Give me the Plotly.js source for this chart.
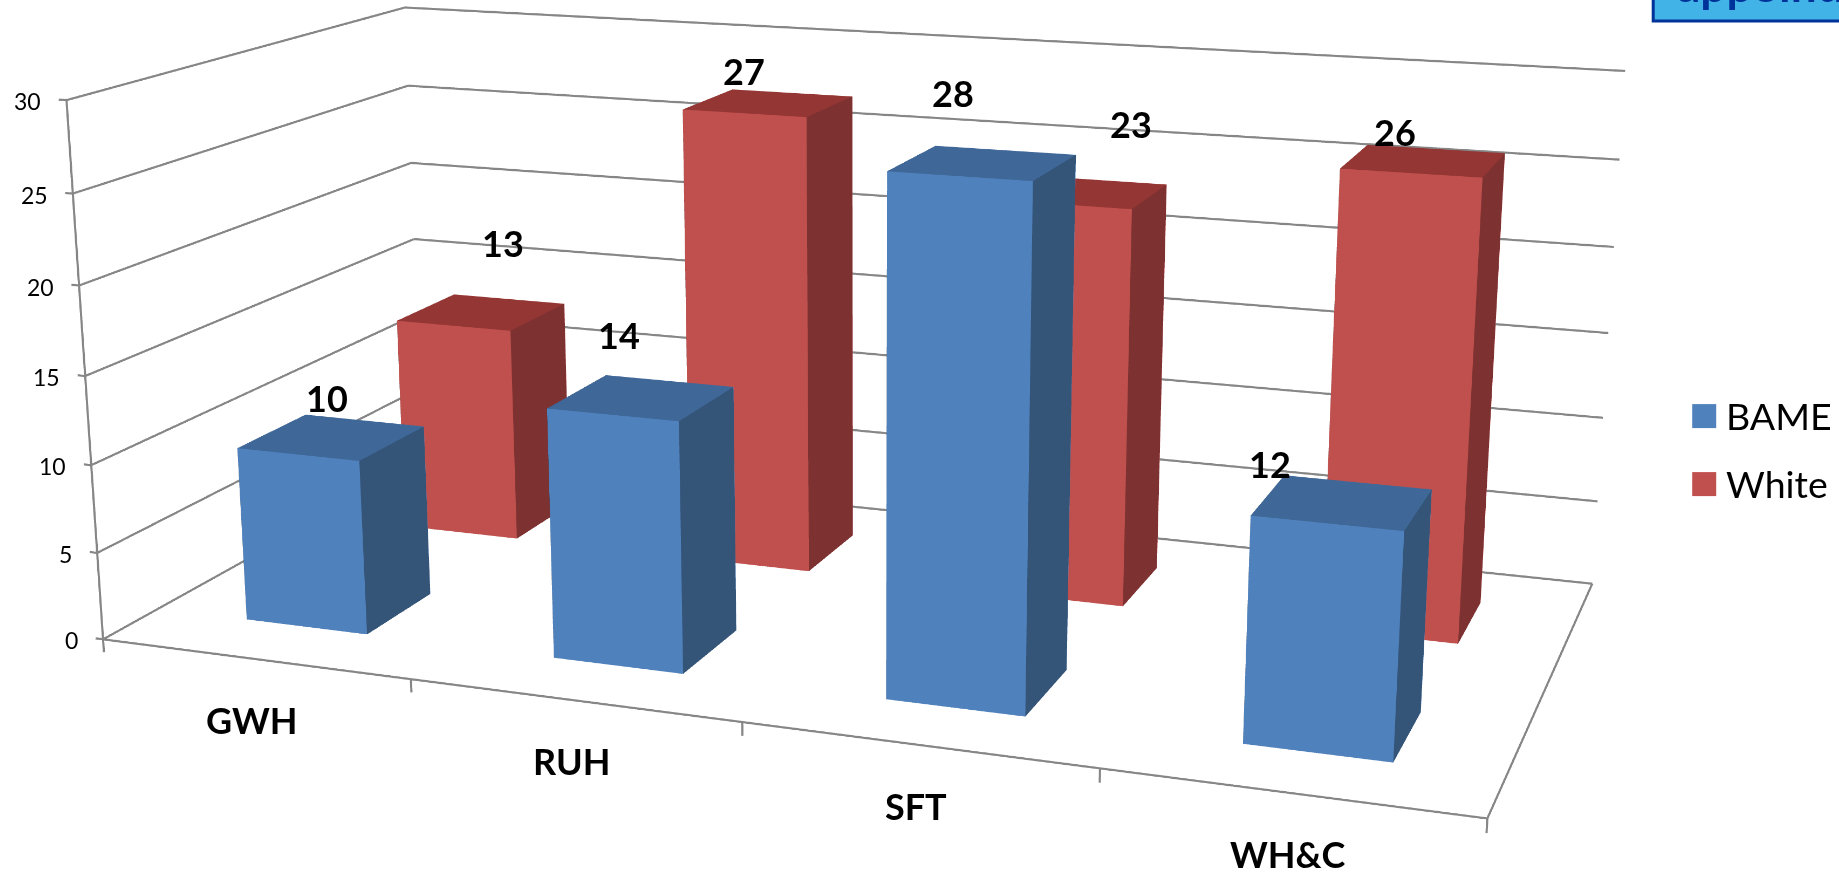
<!DOCTYPE html>
<html>
<head>
<meta charset="utf-8">
<script src="https://cdn.plot.ly/plotly-3.0.1.min.js"></script>
<style>
html,body{margin:0;padding:0;background:#fff;overflow:hidden}
#wrap{position:absolute;left:0;top:0;width:1839px;height:875px;overflow:hidden}
#chart{position:absolute}
</style>
</head>
<body>
<div id="wrap"><div id="chart"></div></div>
<script>
const categories = ['GWH', 'RUH', 'SFT', 'WH&C'];
const seriesNames = ['BAME', 'White'];
const bameValues = [10, 14, 28, 12];
const whiteValues = [13, 27, 23, 26];
const valueTicks = [0, 5, 10, 15, 20, 25, 30];

const FONT = 'Lato, "Open Sans", sans-serif';
const GRID = '#868686';
const BLUE = {front: '#4F81BD', side: '#345478', top: '#3F6797'};
const RED = {front: '#C0504D', side: '#7D3231', top: '#943634'};

// Scene: a long lens needs a tall viewport, so the plot is larger than the window
// and the window shows its central part.
const WIN_W = 1839, WIN_H = 875;
const LAYOUT_W = 3678, LAYOUT_H = 2625;
const AXIS_X = 2, AXIS_Y = 0.9953, AXIS_Z = 0.7892;
const OFF_X = 866.8 - LAYOUT_W / 2, OFF_Y = 432.4 - LAYOUT_H / 2;
const chartEl = document.getElementById('chart');
chartEl.style.left = OFF_X + 'px';
chartEl.style.top = OFF_Y + 'px';
const paperX = u => (u - OFF_X) / LAYOUT_W;
const paperY = v => 1 - (v - OFF_Y) / LAYOUT_H;

// Column footprints in axis units
const categoryCentres = [0.5, 1.5, 2.506, 3.508];
const barHalfW = 0.2, barHalfD = 0.1;
const depthOf = {bame: 0.25, white: 0.75};

function column(cx, cy, h, c) {
  const x0 = cx - barHalfW, x1 = cx + barHalfW, y0 = cy - barHalfD, y1 = cy + barHalfD;
  const x = [x0, x1, x1, x0, x0, x1, x1, x0];
  const y = [y0, y0, y1, y1, y0, y0, y1, y1];
  const z = [0, 0, 0, 0, h, h, h, h];
  const faces = [
    [0, 1, 5, c.front], [0, 5, 4, c.front],
    [1, 2, 6, c.side], [1, 6, 5, c.side],
    [4, 5, 6, c.top], [4, 6, 7, c.top],
    [3, 0, 4, c.side], [3, 4, 7, c.side],
    [2, 3, 7, c.front], [2, 7, 6, c.front],
    [0, 1, 2, c.side], [0, 2, 3, c.side]
  ];
  return {
    type: 'mesh3d', x, y, z,
    i: faces.map(f => f[0]), j: faces.map(f => f[1]), k: faces.map(f => f[2]),
    facecolor: faces.map(f => f[3]), flatshading: true,
    lighting: {ambient: 1, diffuse: 0, specular: 0, roughness: 1, fresnel: 0},
    hoverinfo: 'skip', showscale: false, showlegend: false
  };
}

// Walls, floor edges and tick marks, one trace with gaps between the segments
const lx = [], ly = [], lz = [];
function seg(a, b) {
  lx.push(a[0], b[0], null); ly.push(a[1], b[1], null); lz.push(a[2], b[2], null);
}
const nCat = categories.length;
const zMax = valueTicks[valueTicks.length - 1];
valueTicks.forEach(v => {
  seg([0, 0, v], [0, 1, v]);
  seg([0, 1, v], [nCat, 1, v]);
  seg([-0.025, 0, v], [0, 0, v]);
});
seg([0, 0, 0], [0, 0, zMax]);
seg([0, 0, 0], [nCat, 0, 0]);
seg([nCat, 0, 0], [nCat, 1, 0]);
for (let i = 0; i <= nCat; i++) seg([i, 0, 0], [i, 0, -0.75]);

const traces = [{
  type: 'scatter3d', mode: 'lines', x: lx, y: ly, z: lz,
  line: {color: GRID, width: 4}, hoverinfo: 'skip', showlegend: false, connectgaps: false
}];
categories.forEach((c, i) => {
  traces.push(column(categoryCentres[i], depthOf.white, whiteValues[i], RED));
  traces.push(column(categoryCentres[i], depthOf.bame, bameValues[i], BLUE));
});

// Value labels sit off the column tops by these pixel offsets
const bameLabelShift = [[-5, 39], [-22, 63], [-30, 70], [-72, 38]];
const whiteLabelShift = [[21, 69], [-25, 32], [47, 68], [-29, 29]];
const sceneNotes = [];
categories.forEach((c, i) => {
  sceneNotes.push({x: categoryCentres[i], y: depthOf.bame, z: bameValues[i], text: '<b>' + bameValues[i] + '</b>',
    xshift: bameLabelShift[i][0], yshift: bameLabelShift[i][1], showarrow: false, font: {size: 36, color: '#000', family: FONT}});
  sceneNotes.push({x: categoryCentres[i], y: depthOf.white, z: whiteValues[i], text: '<b>' + whiteValues[i] + '</b>',
    xshift: whiteLabelShift[i][0], yshift: whiteLabelShift[i][1], showarrow: false, font: {size: 36, color: '#000', family: FONT}});
  sceneNotes.push({x: i + 0.5, y: 0, z: 0, text: '<b>' + c.replace('&', '&amp;') + '</b>',
    xshift: -2, yshift: -61, showarrow: false, font: {size: 36, color: '#000', family: FONT}});
});
valueTicks.forEach(v => {
  sceneNotes.push({x: 0, y: 0, z: v, text: String(v), xanchor: 'right', xshift: -23, yshift: -1,
    showarrow: false, font: {size: 23, color: '#000', family: FONT}});
});

// Legend and the heading box that runs off the top corner
const legendRows = [{y: 416, color: BLUE.front}, {y: 484, color: RED.front}];
const shapes = legendRows.map(r => ({
  type: 'rect', xref: 'paper', yref: 'paper', x0: paperX(1692), x1: paperX(1716),
  y0: paperY(r.y - 12), y1: paperY(r.y + 12), fillcolor: r.color, line: {width: 0}
}));
shapes.push({type: 'rect', xref: 'paper', yref: 'paper', x0: paperX(1653), x1: paperX(1900),
  y0: paperY(-60), y1: paperY(21), fillcolor: '#41B3E6', line: {color: '#003399', width: 3}});
const notes = legendRows.map((r, i) => ({
  xref: 'paper', yref: 'paper', x: paperX(1723.5), y: paperY(r.y - 1), xanchor: 'left', yanchor: 'middle',
  text: seriesNames[i], showarrow: false, font: {size: 37.5, color: '#000', family: FONT}
}));
notes.push({xref: 'paper', yref: 'paper', x: paperX(1675), y: paperY(14), xanchor: 'left', yanchor: 'bottom',
  text: '<b>appointments</b>', showarrow: false, font: {size: 46, color: '#003399', family: FONT}});

const layout = {
  width: LAYOUT_W, height: LAYOUT_H, paper_bgcolor: '#fff', showlegend: false,
  margin: {l: 0, r: 0, t: 0, b: 0}, shapes, annotations: notes,
  scene: {
    domain: {x: [0, 1], y: [0, 1]},
    aspectmode: 'manual',
    // The ranges leave room for the tick marks and stay centred on the walls
    aspectratio: {x: AXIS_X * 4.4 / 4, y: AXIS_Y * 1.2, z: AXIS_Z * 36 / 30},
    camera: {eye: {x: 1.5189, y: -4.2180, z: 1.1197}, center: {x: 0.1453, y: -0.4047, z: 0}, up: {x: 0, y: 0, z: 1}},
    xaxis: {visible: false, range: [-0.2, 4.2]},
    yaxis: {visible: false, range: [-0.1, 1.1]},
    zaxis: {visible: false, range: [-3, 33]},
    annotations: sceneNotes
  }
};
Plotly.newPlot('chart', traces, layout, {displayModeBar: false});
</script>
</body>
</html>
